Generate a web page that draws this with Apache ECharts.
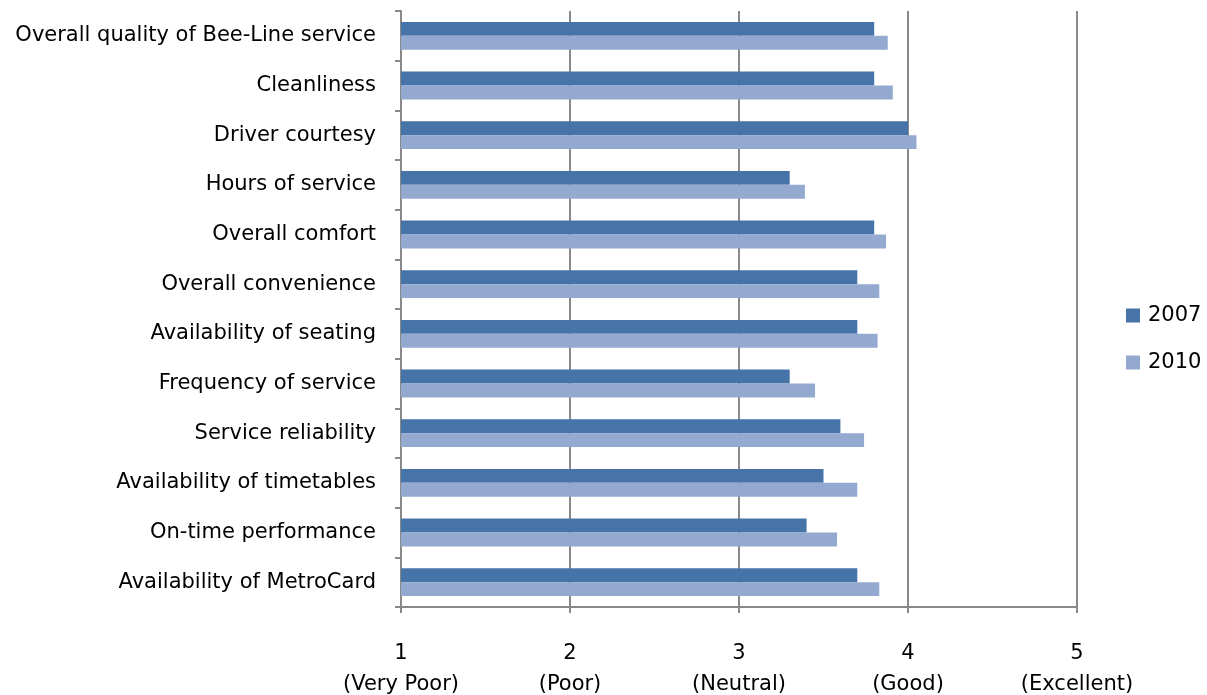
<!DOCTYPE html>
<html><head><meta charset="utf-8">
<script src="https://cdn.jsdelivr.net/npm/echarts@6/dist/echarts.min.js"></script>
<style>html,body{margin:0;padding:0;background:#fff}#c{width:1207px;height:695px}</style>
</head><body><div id="c"></div>
<script>
const categories = ["Overall quality of Bee-Line service","Cleanliness","Driver courtesy","Hours of service","Overall comfort","Overall convenience","Availability of seating","Frequency of service","Service reliability","Availability of timetables","On-time performance","Availability of MetroCard"];
const values2007 = [3.80,3.80,4.00,3.30,3.80,3.70,3.70,3.30,3.60,3.50,3.40,3.70];
const values2010 = [3.88,3.91,4.05,3.39,3.87,3.83,3.82,3.45,3.74,3.70,3.58,3.83];
const tickLabels = {1:"1\n(Very Poor)",2:"2\n(Poor)",3:"3\n(Neutral)",4:"4\n(Good)",5:"5\n(Excellent)"};
const FONT = "DejaVu Sans";
const FS = 21;
const chart = echarts.init(document.getElementById('c'));
chart.setOption({
  animation:false,
  textStyle:{fontFamily:FONT},
  grid:{left:401,right:130,top:11,bottom:88,containLabel:false,outerBoundsMode:'none'},
  legend:{orient:'vertical',left:1121,top:300,itemWidth:14,itemHeight:14,itemGap:26,
    textStyle:{fontFamily:FONT,fontSize:FS,color:'#000',padding:[0,0,0,3]},icon:'rect',
    data:['2007','2010']},
  xAxis:{type:'value',min:1,max:5,interval:1,
    axisLine:{show:true,lineStyle:{color:'#898989',width:2}},
    axisTick:{show:true,length:6,lineStyle:{color:'#898989',width:2}},
    splitLine:{show:true,lineStyle:{color:'#898989',width:2}},
    axisLabel:{margin:31,fontSize:FS,color:'#000',lineHeight:31,fontFamily:FONT,
      formatter:v=>tickLabels[v]||''}},
  yAxis:{type:'category',inverse:true,data:categories,
    axisLine:{show:true,lineStyle:{color:'#898989',width:2}},
    axisTick:{show:true,length:6,alignWithLabel:false,lineStyle:{color:'#898989',width:2}},
    axisLabel:{margin:25,fontSize:FS,color:'#000',fontFamily:FONT}},
  series:[
    {name:'2007',type:'bar',data:values2007,barGap:'0%',barCategoryGap:'44%',
     itemStyle:{color:'#4673A8'}},
    {name:'2010',type:'bar',data:values2010,barGap:'0%',barCategoryGap:'44%',
     itemStyle:{color:'#93A9D0'}}
  ]
});
</script></body></html>
